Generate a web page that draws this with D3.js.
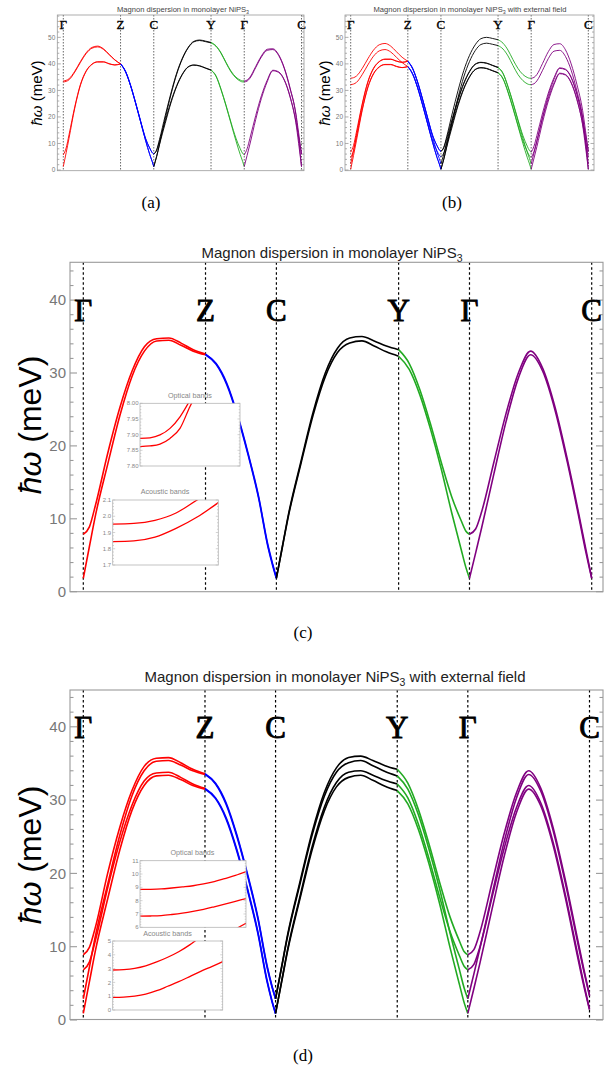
<!DOCTYPE html>
<html><head><meta charset="utf-8">
<script src="https://cdn.jsdelivr.net/npm/d3@7"></script>
<style>body{margin:0;background:#fff}svg{display:block}</style>
</head><body>
<svg id="fig" width="605" height="1072"></svg>
<script>
// High-symmetry path Γ–Z–C–Y–Γ–C, in units of the Γ–Z length
const nodeNames = ["Γ", "Z", "C", "Y", "Γ", "C"];
const nodeK = [0, 1, 1.58, 2.58, 3.16, 4.16];
const segColors = ["#ff0000", "#0000ff", "#000000", "#22aa22", "#800080"];
// sampling fractions along each segment
const tHump = [0, .05, .1, .2, .3, .4, .5, .6, .7, .8, .9, 1];      // Γ–Z, C–Y
const tDrop = [0, .15, .3, .45, .6, .75, .88, .95, 1];             // Z–C, Y–Γ
const tArch = [0, .05, .1, .2, .3, .4, .5, .6, .7, .8, .9, .95, 1]; // Γ–C
const segT = [tHump, tDrop, tHump, tDrop, tArch];

// ---- (a) energies in meV, one row per segment ----
const aUpper1 = [
  [33.6, 33.8, 34.4, 37.2, 40.9, 44.2, 46.2, 46.7, 45.7, 43.6, 41.5, 40.0],
  [40.0, 37.2, 32.0, 25.5, 18.6, 12.0, 8.2, 6.6, 6.0],
  [6.0, 7.6, 11.5, 20.5, 29.0, 36.5, 42.2, 46.2, 48.5, 49.0, 48.6, 48.1],
  [48.1, 46.8, 44.2, 40.6, 37.3, 35.0, 33.9, 33.6, 33.6],
  [33.6, 33.9, 35.0, 39.0, 43.0, 45.5, 45.7, 43.5, 38.5, 31.0, 21.5, 14.0, 6.0]];
const aUpper2 = [
  [33.2, 33.4, 34.0, 36.9, 40.6, 43.9, 45.9, 46.4, 45.5, 43.5, 41.5, 40.0],
  [40.0, 37.0, 31.8, 25.3, 18.3, 11.3, 5.8, 3.3, 1.3],
  [1.3, 5.2, 9.8, 19.5, 28.4, 36.1, 41.9, 46.0, 48.3, 48.8, 48.4, 47.9],
  [47.9, 46.6, 44.0, 40.4, 37.0, 34.7, 33.5, 33.2, 33.2],
  [33.2, 33.5, 34.6, 38.6, 42.6, 45.1, 45.4, 43.2, 38.2, 30.6, 21.0, 12.0, 1.3]];
const aLower1 = [
  [5.7, 8.3, 13.3, 23.8, 32.3, 37.4, 39.9, 40.8, 40.8, 40.1, 39.6, 40.0],
  [40.0, 37.2, 32.0, 25.5, 18.6, 12.0, 8.2, 6.6, 6.0],
  [6.0, 7.4, 10.8, 18.5, 25.8, 31.8, 36.2, 38.9, 39.6, 39.3, 38.5, 37.7],
  [37.7, 35.5, 30.5, 24.5, 18.0, 12.0, 8.0, 6.3, 5.7],
  [5.7, 8.0, 12.0, 20.5, 28.0, 33.8, 37.6, 37.0, 34.0, 27.8, 18.5, 12.5, 6.0]];
const aLower2 = [
  [1.3, 6.5, 12.0, 23.3, 32.0, 37.2, 39.8, 40.7, 40.7, 40.0, 39.6, 40.0],
  [40.0, 37.0, 31.8, 25.3, 18.3, 11.3, 5.8, 3.3, 1.3],
  [1.3, 5.0, 9.5, 17.6, 25.3, 31.5, 36.0, 38.8, 39.5, 39.2, 38.4, 37.6],
  [37.6, 35.3, 30.3, 24.2, 17.6, 11.0, 5.8, 3.3, 1.3],
  [1.3, 5.5, 9.8, 19.0, 27.0, 33.2, 37.4, 36.8, 33.8, 27.5, 18.0, 10.0, 1.3]];

// ---- (b) with external field ----
const bUpperP = [
  [34.6, 34.8, 35.4, 38.2, 41.9, 45.2, 47.2, 47.7, 46.7, 44.6, 42.5, 41.0],
  [41.0, 38.2, 33.0, 26.5, 19.6, 13.0, 9.2, 7.6, 7.0],
  [7.0, 8.6, 12.5, 21.5, 30.0, 37.5, 43.2, 47.2, 49.5, 50.0, 49.6, 49.1],
  [49.1, 47.8, 45.2, 41.6, 38.3, 36.0, 34.9, 34.6, 34.6],
  [34.6, 34.9, 36.0, 40.2, 44.6, 47.3, 47.6, 45.3, 40.0, 32.3, 22.5, 15.0, 7.0]];
const bUpperM = [
  [32.2, 32.4, 33.0, 35.9, 39.6, 42.9, 44.9, 45.4, 44.5, 42.5, 40.5, 39.0],
  [39.0, 36.0, 30.8, 24.3, 17.3, 10.3, 4.8, 2.3, 0.3],
  [0.3, 4.2, 8.8, 18.5, 27.4, 35.1, 40.9, 45.0, 47.3, 47.8, 47.4, 46.9],
  [46.9, 45.6, 43.0, 39.4, 36.0, 33.7, 32.5, 32.2, 32.2],
  [32.2, 32.5, 33.6, 37.6, 42.0, 44.8, 45.1, 42.8, 37.6, 29.8, 20.0, 11.0, 0.3]];
const bLower1P = [
  [6.7, 9.3, 14.3, 24.8, 33.3, 38.4, 40.9, 41.8, 41.8, 41.1, 40.6, 41.0],
  [41.0, 38.2, 33.0, 26.5, 19.6, 13.0, 9.2, 7.6, 7.0],
  [7.0, 8.4, 11.8, 19.5, 26.8, 32.8, 37.2, 39.9, 40.6, 40.3, 39.5, 38.7],
  [38.7, 36.5, 31.5, 25.5, 19.0, 13.0, 9.0, 7.3, 6.7],
  [6.7, 9.0, 13.0, 21.5, 29.0, 34.8, 38.5, 38.0, 35.0, 28.8, 19.5, 13.5, 7.0]];
const bLower1M = [
  [4.7, 7.3, 12.3, 22.8, 31.3, 36.4, 38.9, 39.8, 39.8, 39.1, 38.6, 39.0],
  [39.0, 36.2, 31.0, 24.5, 17.6, 11.0, 7.2, 5.6, 5.0],
  [5.0, 6.4, 9.8, 17.5, 24.8, 30.8, 35.2, 37.9, 38.6, 38.3, 37.5, 36.7],
  [36.7, 34.5, 29.5, 23.5, 17.0, 11.0, 7.0, 5.3, 4.7],
  [4.7, 7.0, 11.0, 19.5, 27.0, 32.8, 36.5, 36.0, 33.0, 26.8, 17.5, 11.5, 5.0]];
const bLower2P = [
  [2.3, 7.5, 13.0, 24.3, 33.0, 38.2, 40.8, 41.7, 41.7, 41.0, 40.6, 41.0],
  [41.0, 38.0, 32.8, 26.3, 19.3, 12.3, 6.8, 4.3, 2.3],
  [2.3, 6.0, 10.5, 18.6, 26.3, 32.5, 37.0, 39.8, 40.5, 40.2, 39.4, 38.6],
  [38.6, 36.3, 31.3, 25.2, 18.6, 12.0, 6.8, 4.3, 2.3],
  [2.3, 6.5, 10.8, 20.0, 28.0, 34.2, 38.3, 37.8, 34.8, 28.5, 19.0, 11.0, 2.3]];
const bLower2M = [
  [0.3, 5.5, 11.0, 22.3, 31.0, 36.2, 38.8, 39.7, 39.7, 39.0, 38.6, 39.0],
  [39.0, 36.0, 30.8, 24.3, 17.3, 10.3, 4.8, 2.3, 0.3],
  [0.3, 4.0, 8.5, 16.6, 24.3, 30.5, 35.0, 37.8, 38.5, 38.2, 37.4, 36.6],
  [36.6, 34.3, 29.3, 23.2, 16.6, 10.0, 4.8, 2.3, 0.3],
  [0.3, 4.5, 8.8, 18.0, 26.0, 32.2, 36.3, 35.8, 32.8, 26.5, 17.0, 9.0, 0.3]];

// ---- (c) monolayer, zero field ----
const cOptical = [
  [7.88, 8.9, 11.9, 19.0, 25.3, 30.3, 33.6, 34.7, 34.8, 34.1, 33.2, 32.6],
  [32.6, 31.3, 28.6, 24.3, 19.0, 13.0, 6.4, 3.7, 1.9],
  [1.9, 6.3, 10.7, 17.8, 24.6, 30.0, 33.4, 34.8, 35.0, 34.4, 33.7, 33.2],
  [33.2, 31.3, 27.7, 23.0, 17.8, 13.0, 9.8, 8.3, 7.88],
  [7.88, 8.6, 11.0, 17.8, 24.5, 30.0, 33.0, 30.6, 25.3, 18.2, 10.2, 6.0, 1.9]];
const cAcoustic = [
  [1.83, 6.2, 10.5, 17.5, 24.2, 29.6, 33.0, 34.4, 34.5, 33.8, 33.0, 32.5],
  [32.5, 31.2, 28.4, 24.1, 18.8, 12.8, 6.2, 3.5, 1.83],
  [1.83, 6.2, 10.5, 17.5, 24.2, 29.5, 32.8, 34.1, 34.4, 33.7, 32.9, 32.3],
  [32.3, 30.5, 27.0, 22.3, 16.9, 10.8, 5.9, 3.3, 1.83],
  [1.83, 5.3, 8.8, 16.2, 23.4, 29.3, 32.5, 30.2, 24.9, 17.8, 9.8, 5.6, 1.83]];

// ---- (d) monolayer with external field ----
const dOpticalP = [
  [8.9, 9.9, 12.7, 20.0, 26.3, 31.3, 34.6, 35.7, 35.8, 35.1, 34.2, 33.6],
  [33.6, 32.3, 29.6, 25.3, 20.0, 14.0, 7.4, 4.6, 2.9],
  [2.9, 7.3, 11.7, 18.8, 25.6, 31.0, 34.4, 35.8, 36.0, 35.4, 34.7, 34.2],
  [34.2, 32.3, 28.7, 24.0, 18.8, 14.0, 10.8, 9.3, 8.9],
  [8.9, 9.6, 12.0, 18.8, 25.5, 31.0, 34.0, 31.6, 26.3, 19.2, 11.2, 7.2, 3.4]];
const dAcousticP = [
  [2.9, 7.2, 11.5, 18.5, 25.2, 30.6, 34.0, 35.3, 35.4, 34.8, 34.0, 33.5],
  [33.5, 32.2, 29.4, 25.1, 19.8, 13.8, 7.2, 4.5, 2.9],
  [2.9, 7.2, 11.5, 18.5, 25.2, 30.5, 33.8, 35.1, 35.4, 34.7, 33.9, 33.3],
  [33.3, 31.5, 28.0, 23.3, 17.9, 11.8, 6.9, 4.3, 2.9],
  [2.9, 6.3, 9.8, 17.2, 24.4, 30.3, 33.5, 31.2, 25.9, 18.8, 10.8, 6.9, 3.3]];
const dOpticalM = [
  [6.85, 7.9, 10.9, 18.0, 24.3, 29.3, 32.6, 33.7, 33.8, 33.1, 32.2, 31.6],
  [31.6, 30.3, 27.6, 23.3, 18.0, 12.0, 5.4, 2.6, 0.9],
  [0.9, 5.3, 9.7, 16.8, 23.6, 29.0, 32.4, 33.8, 34.0, 33.4, 32.7, 32.2],
  [32.2, 30.3, 26.7, 22.0, 16.8, 12.0, 8.8, 7.3, 6.85],
  [6.85, 7.6, 10.0, 16.8, 23.5, 29.0, 32.0, 29.6, 24.3, 17.2, 9.2, 5.2, 1.5]];
const dAcousticM = [
  [0.9, 5.2, 9.5, 16.5, 23.2, 28.6, 32.0, 33.3, 33.4, 32.8, 32.0, 31.5],
  [31.5, 30.2, 27.4, 23.1, 17.8, 11.8, 5.2, 2.5, 0.9],
  [0.9, 5.2, 9.5, 16.5, 23.2, 28.5, 31.8, 33.1, 33.4, 32.7, 31.9, 31.3],
  [31.3, 29.5, 26.0, 21.3, 15.9, 9.8, 4.9, 2.3, 0.9],
  [0.9, 4.3, 7.8, 15.2, 22.4, 28.3, 31.5, 29.2, 23.9, 16.8, 8.8, 4.9, 1.4]];

// ---- insets: energies near Γ on a fine scale ----
const cOptInsetK = [0, .1, .2, .3, .4, .5, .6];
const cOptInsetUpper = [7.888, 7.890, 7.899, 7.920, 7.957, 8.010, 8.070];
const cOptInsetLower = [7.862, 7.864, 7.870, 7.888, 7.920, 7.990, 8.050];
const cAcInsetK = [0, .2, .4, .6, .8, 1];
const cAcInsetUpper = [1.952, 1.956, 1.975, 2.020, 2.100, 2.170];
const cAcInsetLower = [1.844, 1.848, 1.871, 1.925, 1.995, 2.084];
const dInsetK = [0, .1, .2, .3, .4, .5, .6, .7, .8, .9, 1];
const dInsetOptP = [8.84, 8.85, 8.88, 8.95, 9.03, 9.12, 9.26, 9.43, 9.66, 9.90, 10.19];
const dInsetOptM = [6.84, 6.85, 6.88, 6.96, 7.06, 7.19, 7.35, 7.54, 7.74, 7.95, 8.16];
const dInsetAcP = [2.90, 2.93, 3.02, 3.20, 3.48, 3.82, 4.22, 4.72, 5.30, 5.85, 6.30];
const dInsetAcM = [0.92, 0.94, 1.01, 1.15, 1.40, 1.72, 2.05, 2.42, 2.80, 3.15, 3.50];

const svg = d3.select("#fig");
const defs = svg.append("defs");
const sans = "'Liberation Sans', Arial, sans-serif";
const serif = "'Liberation Serif', 'DejaVu Serif', serif";

function addTitle(x, y, size, color, tail) {
  const t = svg.append("text").attr("x", x).attr("y", y).attr("text-anchor", "middle")
    .attr("font-family", sans).attr("font-size", size).attr("fill", color);
  t.append("tspan").text("Magnon dispersion in monolayer NiPS");
  t.append("tspan").attr("font-size", size * 0.7).attr("dy", size * 0.25).text("3");
  if (tail) t.append("tspan").attr("dy", -size * 0.25).text(tail);
}

function drawPanel(p) {
  const [fl, ft, fr, fb] = p.frame;
  const x = d3.scaleLinear().domain([0, nodeK[5]]).range(p.xRange);
  const y = d3.scaleLinear().domain([0, 10]).range([p.yZero, p.yZero - 10 * p.pxPerMeV]);
  const g = svg.append("g");

  defs.append("clipPath").attr("id", "clip-" + p.id).append("rect")
    .attr("x", fl).attr("y", ft).attr("width", fr - fl).attr("height", fb - ft);

  // path node separators
  g.append("g").selectAll("line").data(nodeK).join("line")
    .attr("x1", d => x(d)).attr("x2", d => x(d)).attr("y1", ft).attr("y2", fb)
    .attr("stroke", "#000").attr("stroke-width", p.dashW).attr("stroke-dasharray", p.dash);

  // dispersion curves, coloured by path segment
  const line = d3.line().x(d => x(d[0])).y(d => y(d[1])).curve(d3.curveMonotoneX);
  const cg = g.append("g").attr("clip-path", `url(#clip-${p.id})`).attr("fill", "none")
    .attr("stroke-width", p.lineW).attr("stroke-linejoin", "round");
  p.bands.forEach(band => {
    band.forEach((vals, s) => {
      const pts = segT[s].map((t, i) => [nodeK[s] + t * (nodeK[s + 1] - nodeK[s]), vals[i]]);
      cg.append("path").attr("d", line(pts)).attr("stroke", segColors[s]);
    });
  });

  // frame and ticks
  g.append("rect").attr("x", fl).attr("y", ft).attr("width", fr - fl).attr("height", fb - ft)
    .attr("fill", "none").attr("stroke", "#9a9a9a").attr("stroke-width", p.frameW);
  const ticks = d3.range(0, 100, 2).filter(v => y(v) >= ft - 0.1);
  ticks.forEach(v => {
    const major = v % 10 === 0;
    const len = major ? p.tickMajor : p.tickMinor;
    g.append("line").attr("x1", fl).attr("x2", fl + len).attr("y1", y(v)).attr("y2", y(v))
      .attr("stroke", "#9a9a9a").attr("stroke-width", p.frameW);
    g.append("line").attr("x1", fr).attr("x2", fr - len).attr("y1", y(v)).attr("y2", y(v))
      .attr("stroke", "#9a9a9a").attr("stroke-width", p.frameW);
    if (major) {
      g.append("text").attr("x", fl - p.labelGap).attr("y", y(v)).attr("dy", "0.35em")
        .attr("text-anchor", "end").attr("font-family", sans).attr("font-size", p.tickFont)
        .attr("fill", "#777").text(v);
    }
  });

  // axis title
  const ay = g.append("text").attr("transform", `translate(${p.axisX},${p.axisY}) rotate(-90)`)
    .attr("text-anchor", "middle").attr("dy", "0.35em").attr("font-family", sans)
    .attr("font-size", p.axisFont).attr("fill", "#000");
  ay.append("tspan").attr("font-style", "italic").text("ħω");
  ay.append("tspan").text(" (meV)");

  // high-symmetry point labels
  g.append("g").selectAll("text").data(nodeK).join("text")
    .attr("x", d => x(d)).attr("y", y(p.labelE)).attr("text-anchor", "middle")
    .attr("font-family", serif).attr("font-size", p.labelFont).attr("fill", "#000")
    .attr("stroke", "#000").attr("stroke-width", p.labelStroke)
    .text((d, i) => nodeNames[i]);

  (p.insets || []).forEach((ins, j) => drawInset(ins, p.id + j));
}

function drawInset(ins, id) {
  const [x0, y0, x1, y1] = ins.box;
  const x = d3.scaleLinear().domain([0, 1]).range([x0, x1]);
  const y = d3.scaleLinear().domain(ins.domain).range([y1, y0]);
  const g = svg.append("g");
  g.append("rect").attr("x", x0).attr("y", y0).attr("width", x1 - x0).attr("height", y1 - y0)
    .attr("fill", "#fff");
  defs.append("clipPath").attr("id", "clip-in-" + id).append("rect")
    .attr("x", x0).attr("y", y0).attr("width", x1 - x0).attr("height", y1 - y0);
  const line = d3.line().x(d => x(d[0])).y(d => y(d[1])).curve(d3.curveMonotoneX);
  const cg = g.append("g").attr("clip-path", `url(#clip-in-${id})`);
  ins.series.forEach(vals => {
    cg.append("path").attr("d", line(ins.k.map((k, i) => [k, vals[i]])))
      .attr("fill", "none").attr("stroke", "#ff0000").attr("stroke-width", 1.3);
  });
  g.append("rect").attr("x", x0).attr("y", y0).attr("width", x1 - x0).attr("height", y1 - y0)
    .attr("fill", "none").attr("stroke", "#b5b5b5").attr("stroke-width", 0.8);
  const [lo, hi] = ins.domain;
  const nMinor = Math.round((hi - lo) / ins.minor);
  for (let i = 0; i <= nMinor; i++) {
    const v = lo + i * ins.minor;
    const isMajor = Math.abs(Math.round((v - lo) / ins.major) * ins.major - (v - lo)) < 1e-6;
    const len = isMajor ? 2.5 : 1.3;
    g.append("line").attr("x1", x0).attr("x2", x0 + len).attr("y1", y(v)).attr("y2", y(v))
      .attr("stroke", "#b5b5b5").attr("stroke-width", 0.6);
    g.append("line").attr("x1", x1).attr("x2", x1 - len).attr("y1", y(v)).attr("y2", y(v))
      .attr("stroke", "#b5b5b5").attr("stroke-width", 0.6);
    if (isMajor) {
      g.append("text").attr("x", x0 - 1.5).attr("y", y(v)).attr("dy", "0.35em")
        .attr("text-anchor", "end").attr("font-family", sans).attr("font-size", 6)
        .attr("fill", "#888").text(d3.format(ins.fmt)(v));
    }
  }
  g.append("text").attr("x", ins.titleX).attr("y", ins.titleY).attr("text-anchor", "middle")
    .attr("font-family", sans).attr("font-size", 7.2).attr("fill", "#888").text(ins.title);
}

const small = {
  pxPerMeV: 2.653, yZero: 170, lineW: 0.9, dashW: 0.6, dash: "1.5,1.5", frameW: 0.8,
  tickMajor: 3.5, tickMinor: 2, tickFont: 6.5, labelGap: 2, axisFont: 15, axisY: 93,
  labelE: 53, labelFont: 13, labelStroke: 0.35
};
const large = {
  lineW: 1.6, dashW: 1.2, dash: "2.5,2.5", frameW: 1.1,
  tickMajor: 7, tickMinor: 3.5, tickFont: 15, labelGap: 4, axisFont: 32, axisX: 30,
  labelFont: 31, labelStroke: 0.9
};

addTitle(183, 12, 7.6, "#444");
drawPanel(Object.assign({}, small, {
  id: "a", frame: [57.3, 15, 304, 170.7], xRange: [63.3, 301.5], axisX: 37,
  bands: [aLower2, aLower1, aUpper2, aUpper1]
}));
addTitle(470, 12, 7.6, "#444", " with external field");
drawPanel(Object.assign({}, small, {
  id: "b", frame: [345, 15, 594, 170.7], xRange: [350.7, 588.3], axisX: 325,
  bands: [bLower2M, bLower2P, bLower1M, bLower1P, bUpperM, bUpperP]
}));

addTitle(332, 258, 15, "#222");
drawPanel(Object.assign({}, large, {
  id: "c", frame: [70, 262.3, 603, 591.7], xRange: [83.3, 591.7], yZero: 591.7, pxPerMeV: 7.29,
  axisY: 425, labelE: 37.1,
  bands: [cAcoustic, cOptical],
  insets: [
    { title: "Optical bands", titleX: 190, titleY: 398, box: [140, 403.3, 240, 466],
      domain: [7.8, 8.0], major: 0.05, minor: 0.01, fmt: ".2f",
      k: cOptInsetK, series: [cOptInsetUpper, cOptInsetLower] },
    { title: "Acoustic bands", titleX: 165, titleY: 494, box: [112.7, 500, 218.3, 565],
      domain: [1.7, 2.1], major: 0.1, minor: 0.02, fmt: ".1f",
      k: cAcInsetK, series: [cAcInsetUpper, cAcInsetLower] }
  ]
}));

addTitle(335, 682, 15, "#222", " with external field");
drawPanel(Object.assign({}, large, {
  id: "d", frame: [70, 690, 603, 1019.5], xRange: [83.3, 589.5], yZero: 1020, pxPerMeV: 7.33,
  axisY: 855, labelE: 38.5,
  bands: [dAcousticM, dOpticalM, dAcousticP, dOpticalP],
  insets: [
    { title: "Optical bands", titleX: 192.5, titleY: 855, box: [140, 860.7, 246, 927.3],
      domain: [6, 11], major: 1, minor: 0.2, fmt: "d",
      k: dInsetK, series: [dInsetOptP, dInsetOptM, dInsetAcP] },
    { title: "Acoustic bands", titleX: 167.5, titleY: 935.5, box: [112.7, 941, 222.7, 1010],
      domain: [0, 5], major: 1, minor: 0.2, fmt: "d",
      k: dInsetK, series: [dInsetAcP, dInsetAcM] }
  ]
}));

// sub-figure captions
[["(a)", 151, 208], ["(b)", 452, 208], ["(c)", 303, 638], ["(d)", 303, 1061]].forEach(([s, cx, cy]) => {
  svg.append("text").attr("x", cx).attr("y", cy).attr("text-anchor", "middle")
    .attr("font-family", serif).attr("font-size", 17).attr("fill", "#000").text(s);
});
</script>
</body></html>
